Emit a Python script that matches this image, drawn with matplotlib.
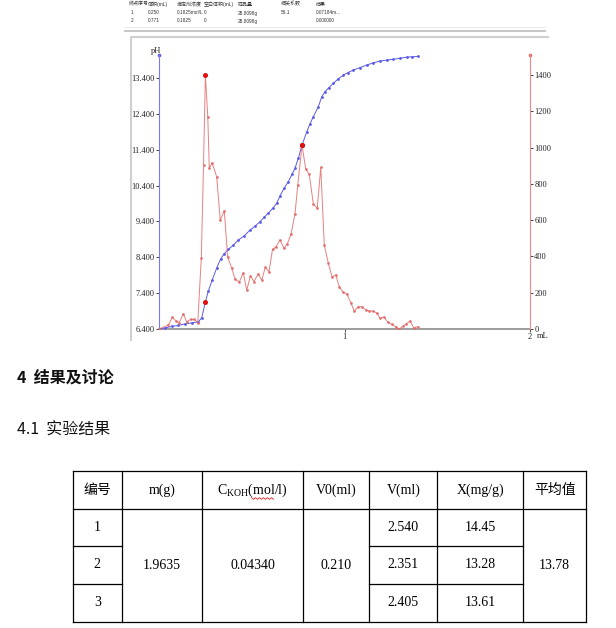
"""Titration curve screenshot with result table."""
import matplotlib

matplotlib.use("Agg")
import matplotlib.pyplot as plt
import numpy as np

W, H = 616, 628

# pH titration curve (volume in mL)
vol_ph = [0.000, 0.032, 0.068, 0.104, 0.140, 0.176, 0.212, 0.230, 0.250, 0.266,
          0.288, 0.311, 0.332, 0.350, 0.374, 0.399, 0.427, 0.458, 0.491, 0.518,
          0.544, 0.566, 0.589, 0.612, 0.635, 0.652, 0.674, 0.697, 0.717, 0.733,
          0.751, 0.771, 0.796, 0.814, 0.832, 0.859, 0.877, 0.895, 0.916, 0.940,
          0.965, 0.994, 1.019, 1.047, 1.084, 1.120, 1.154, 1.191, 1.228, 1.263,
          1.299, 1.335, 1.364, 1.398]
ph = [6.40, 6.43, 6.47, 6.50, 6.54, 6.57, 6.60, 6.71, 7.15, 7.46,
      7.78, 8.10, 8.35, 8.49, 8.62, 8.73, 8.88, 8.99, 9.16, 9.27,
      9.39, 9.51, 9.63, 9.76, 9.91, 10.11, 10.32, 10.51, 10.71, 10.88,
      11.16, 11.53, 11.89, 12.12, 12.32, 12.60, 12.87, 13.02, 13.13, 13.25,
      13.37, 13.48, 13.55, 13.62, 13.69, 13.76, 13.82, 13.87, 13.90, 13.92,
      13.95, 13.98, 13.99, 14.00]

# first derivative curve
vol_d = [0.000, 0.050, 0.072, 0.090, 0.109, 0.131, 0.149, 0.171, 0.190, 0.209,
         0.228, 0.240, 0.250, 0.263, 0.271, 0.287, 0.311, 0.330, 0.352, 0.370,
         0.392, 0.410, 0.433, 0.454, 0.473, 0.493, 0.512, 0.534, 0.554, 0.573,
         0.593, 0.612, 0.632, 0.652, 0.674, 0.692, 0.712, 0.733, 0.748, 0.771,
         0.791, 0.810, 0.832, 0.853, 0.872, 0.891, 0.913, 0.933, 0.953, 0.973,
         0.994, 1.013, 1.034, 1.053, 1.074, 1.093, 1.115, 1.134, 1.155, 1.174,
         1.191, 1.211, 1.236, 1.256, 1.278, 1.295, 1.315, 1.334, 1.353, 1.374,
         1.394]
dph = [0, 22, 64, 46, 35, 83, 40, 53, 53, 35,
       391, 904, 1400, 1169, 888, 915, 838, 601, 651, 397,
       336, 274, 259, 310, 215, 292, 261, 303, 270, 340,
       316, 439, 454, 491, 445, 470, 524, 634, 794, 1014,
       880, 853, 689, 665, 891, 463, 362, 288, 297, 229,
       202, 193, 145, 99, 123, 123, 105, 99, 99, 88,
       59, 66, 36, 25, 11, 0, 15, 29, 44, 6,
       13]

ep_vol = [0.250, 0.771]
ep_ph = [7.15, 11.53]
ep_d = [1400, 1014]

ph_ticks = [6.4, 7.4, 8.4, 9.4, 10.4, 11.4, 12.4, 13.4]
d_ticks = [0, 200, 400, 600, 800, 1000, 1200, 1400]

# instrument result strip
strip_cols = ["终点序号", "体积(mL)", "滴定剂浓度", "空白体积(mL)", "样品量", "相关系数", "结果"]
strip_rows = [
    ["1", "0.250", "0.1825mol/L", "0", "28.8098g", "56.1", "0.07184m..."],
    ["2", "0.771", "0.1825", "0", "28.8098g", "", "0.000000"],
]

# result table
tab_ids = ["1", "2", "3"]
tab_m = "1.9635"
tab_c = "0.04340"
tab_v0 = "0.210"
tab_v = ["2.540", "2.351", "2.405"]
tab_x = ["14.45", "13.28", "13.61"]
tab_mean = "13.78"

SERIF = ["Liberation Serif", "Noto Sans CJK SC"]
CJK = ["Noto Sans CJK SC", "DejaVu Sans"]
SMALL = ["Liberation Sans", "Noto Sans CJK SC"]
BLUE = "#5c5ce6"
RED = "#e36a6a"

plt.rcParams["font.family"] = SERIF
plt.rcParams["mathtext.fontset"] = "custom"
plt.rcParams["mathtext.rm"] = "Liberation Serif"

fig = plt.figure(figsize=(W / 100, H / 100), dpi=100)
page = fig.add_axes([0, 0, 1, 1])
page.set_xlim(0, W)
page.set_ylim(H, 0)
page.axis("off")

# --- top strip
strip_x = [129, 148, 177, 204, 238, 281, 316]
for x, label in zip(strip_x, strip_cols):
    page.text(x, 4, label, fontsize=3.6, family=SMALL, va="center", color="#333333")
for r, row in enumerate(strip_rows):
    for x, val in zip(strip_x, row):
        page.text(x + (2 if x == 129 else 0), 13 + 8 * r, val, fontsize=3.4,
                  family=SMALL, va="center", color="#333333")
page.plot([125, 545], [31, 31], color="#c8c8c8", lw=1.5)
page.plot([125, 545], [27, 27], color="#e6e6e6", lw=0.6)

# chart frame
page.plot([131, 131, 548], [340, 37, 37], color="#cfcfcf", lw=1.5)

# --- chart
ax = fig.add_axes([159 / W, 1 - 329 / H, (530 - 159) / W, (329 - 55) / H])
ax2 = ax.twinx()
ax.set_xlim(0, 2)
ax.set_ylim(6.4, 14.04)
ax2.set_ylim(0, 1510)
ax.patch.set_alpha(0)

ax.plot(vol_ph, ph, color=BLUE, lw=0.7, marker="o", ms=1.0, zorder=3)
ax2.plot(vol_d, dph, color=RED, lw=0.7, marker="o", ms=1.0, alpha=0.85)
ax.plot(ep_vol, ep_ph, "o", color="#e01010", ms=2.6, zorder=4)
ax2.plot(ep_vol, ep_d, "o", color="#e01010", ms=2.6, zorder=4)
ax.plot([0], [14.04], "o", color=BLUE, ms=1.6, clip_on=False)
ax2.plot([2], [1510], "o", color=RED, ms=1.6, clip_on=False)

for a in (ax, ax2):
    a.spines["top"].set_visible(False)
ax.spines["right"].set_visible(False)
ax2.spines["left"].set_visible(False)
ax2.spines["bottom"].set_visible(False)
ax.spines["left"].set_color("#7a7af0")
ax2.spines["right"].set_color("#ea8a8a")
ax.spines["bottom"].set_color("#8c8c8c")
ax.spines["bottom"].set_linewidth(1.2)

ax.set_yticks(ph_ticks)
ax.set_yticklabels([f"{t:.3f}" for t in ph_ticks])
ax2.set_yticks(d_ticks)
ax2.set_yticklabels([str(t) for t in d_ticks])
ax.set_xticks([1, 2])
ax.set_xticklabels(["1", "2"])
ax.tick_params(axis="y", length=2, width=0.6, pad=1, labelsize=6, colors="#222222")
ax2.tick_params(axis="y", length=2, width=0.6, pad=1, labelsize=6, colors="#222222")
ax.tick_params(axis="x", length=2, width=0.6, pad=1, labelsize=6, colors="#222222")

page.text(156, 51, "pH", fontsize=6, ha="center", va="center", color="#222222")
page.text(537, 336, "mL", fontsize=6, ha="left", va="center", color="#222222")

# --- headings
page.text(17, 378, "4  结果及讨论", fontsize=11.5, family=CJK, weight="bold",
          va="center", color="#111111")
page.text(17, 430, "4.1  实验结果", fontsize=11.5, family=CJK, va="center", color="#111111")

# --- table
col_x = [73, 121.7, 202.3, 302.7, 369.3, 437.3, 523.3, 586]
row_y = [471, 509, 546, 584, 622]
lc = dict(color="black", lw=0.9)
page.plot([col_x[0], col_x[-1]], [row_y[0], row_y[0]], **lc)
page.plot([col_x[0], col_x[-1]], [row_y[1], row_y[1]], **lc)
page.plot([col_x[0], col_x[-1]], [row_y[-1], row_y[-1]], **lc)
for y in row_y[2:4]:
    page.plot([col_x[0], col_x[1]], [y, y], **lc)
    page.plot([col_x[4], col_x[6]], [y, y], **lc)
for x in col_x:
    page.plot([x, x], [row_y[0], row_y[-1]], **lc)

cx = [(a + b) / 2 for a, b in zip(col_x[:-1], col_x[1:])]
hy = (row_y[0] + row_y[1]) / 2
ry = [(a + b) / 2 for a, b in zip(row_y[1:-1], row_y[2:])]
my = (row_y[1] + row_y[-1]) / 2
fs = 10
page.text(cx[0], hy, "编号", fontsize=fs, family=CJK, ha="center", va="center")
page.text(cx[1], hy, "m(g)", fontsize=fs, ha="center", va="center")
page.text(cx[2], hy, r"C$_{\mathrm{KOH}}$(mol/l)", fontsize=fs, ha="center", va="center")
page.text(cx[3], hy, "V0(ml)", fontsize=fs, ha="center", va="center")
page.text(cx[4], hy, "V(ml)", fontsize=fs, ha="center", va="center")
page.text(cx[5], hy, "X(mg/g)", fontsize=fs, ha="center", va="center")
page.text(cx[6], hy, "平均值", fontsize=fs, family=CJK, ha="center", va="center")

# spell-check squiggle under "mol"
zx = np.linspace(251.5, 273.5, 12)
zy = 498.5 + np.where(np.arange(12) % 2 == 0, -0.8, 0.8)
page.plot(zx, zy, color="#e02020", lw=0.6)

for i, y in enumerate(ry):
    page.text(cx[0], y, tab_ids[i], fontsize=fs, ha="center", va="center")
    page.text(cx[4], y, tab_v[i], fontsize=fs, ha="center", va="center")
    page.text(cx[5], y, tab_x[i], fontsize=fs, ha="center", va="center")
page.text(cx[1], my, tab_m, fontsize=fs, ha="center", va="center")
page.text(cx[2], my, tab_c, fontsize=fs, ha="center", va="center")
page.text(cx[3], my, tab_v0, fontsize=fs, ha="center", va="center")
page.text(cx[6], my, tab_mean, fontsize=fs, ha="center", va="center")

fig.savefig("out.png", dpi=100)
